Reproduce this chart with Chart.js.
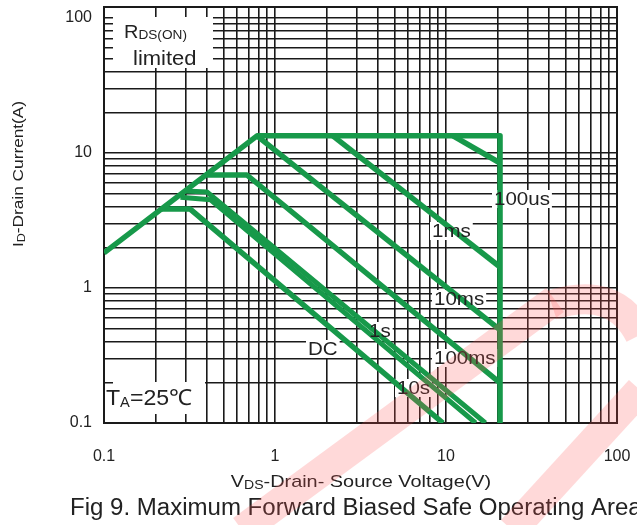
<!DOCTYPE html>
<html>
<head>
<meta charset="utf-8">
<script src="https://cdn.jsdelivr.net/npm/chart.js@4.4.1/dist/chart.umd.min.js"></script>
<style>
    html, body { margin: 0; padding: 0; background: #fff; }
</style>
</head>
<body>
<canvas id="chartSOA" width="637" height="525"></canvas>
<script>
// Datos: V (voltios) e I (amperios)
const decadas = [0.1, 1, 10, 100];
const etiquetasDecada = ['0.1', '1', '10', '100'];

// Límite RDS(ON) + límite de corriente + límite de tensión
const rdsV = [0.1, 0.785, 20.7, 20.7];
const rdsI = [1.82, 13.4, 13.4, 0.1];

const us100V = [11.0, 20.7];
const us100I = [13.4, 8.43];

const ms1V = [2.18, 20.7];
const ms1I = [13.4, 1.43];

const ms10V = [0.785, 20.7];
const ms10I = [13.4, 0.489];

const ms100V = [0.40, 0.685, 20.7];
const ms100I = [6.87, 6.87, 0.198];

const s1V = [0.298, 0.40, 17.0];
const s1I = [5.23, 5.14, 0.1];

const dcV = [0.28, 0.42, 14.9];
const dcI = [4.70, 4.50, 0.1];

const s10V = [0.217, 0.318, 9.6];
const s10I = [3.85, 3.85, 0.1];

const curvas = [
    ['RDS', rdsV, rdsI],
    ['100us', us100V, us100I],
    ['1ms', ms1V, ms1I],
    ['10ms', ms10V, ms10I],
    ['100ms', ms100V, ms100I],
    ['1s', s1V, s1I],
    ['DC', dcV, dcI],
    ['10s', s10V, s10I]
];

const VERDE = '#17994a';
const NEGRO = '#1a1a1a';
const FUENTE = "'Liberation Sans', Arial, sans-serif";

// ticks de la rejilla log (1..9 por década)
const ticksLog = [];
decadas.forEach(d => {
    for (let m = 1; m <= 9; m++) {
        if (d === 100 && m > 1) break;
        ticksLog.push(d * m);
    }
});

function etiqueta(v) {
    const i = decadas.findIndex(d => Math.abs(v - d) < d * 1e-6);
    return i >= 0 ? etiquetasDecada[i] : '';
}

// texto con subíndices: partes = [[texto, tamaño, dy], ...]
function textoSub(ctx, partes, x, y, sx) {
    ctx.save();
    ctx.translate(x, y);
    ctx.scale(sx || 1, 1);
    let px = 0;
    partes.forEach(p => {
        ctx.font = p[1] + 'px ' + FUENTE;
        ctx.fillText(p[0], px, p[2] || 0);
        px += ctx.measureText(p[0]).width;
    });
    ctx.restore();
    return px * (sx || 1);
}

function anchoSub(ctx, partes, sx) {
    let w = 0;
    partes.forEach(p => {
        ctx.font = p[1] + 'px ' + FUENTE;
        w += ctx.measureText(p[0]).width;
    });
    return w * (sx || 1);
}

// etiquetas dentro del gráfico (posición en px: izquierda, línea base)
const rotulos = [
    [[['100us', 19]], 494, 205],
    [[['1ms', 19]], 432, 237],
    [[['10ms', 19]], 434, 305],
    [[['100ms', 19]], 434, 364],
    [[['1s', 19]], 369, 337],
    [[['DC', 19]], 308, 355],
    [[['10s', 19]], 397, 394]
];

const pluginTextos = {
    id: 'textos',
    beforeDatasetsDraw(chart) {
        const ctx = chart.ctx;
        const a = chart.chartArea;
        ctx.save();
        // marco
        ctx.strokeStyle = NEGRO;
        ctx.lineWidth = 2;
        ctx.strokeRect(a.left, a.top, a.right - a.left, a.bottom - a.top);
        // fondos blancos
        ctx.fillStyle = '#fff';
        ctx.fillRect(113, 17, 100, 51);
        ctx.fillRect(113, 382, 92, 32);
        rotulos.forEach(r => {
            const w = anchoSub(ctx, r[0], 1.08);
            ctx.fillRect(r[1] - 2, r[2] - 15, w + 4, 18);
        });
        ctx.restore();
    },
    afterDatasetsDraw(chart) {
        const ctx = chart.ctx;
        ctx.save();
        ctx.fillStyle = '#222';
        ctx.textBaseline = 'alphabetic';
        rotulos.forEach(r => textoSub(ctx, r[0], r[1], r[2], 1.08));
        textoSub(ctx, [['R', 19], ['DS(ON)', 13, 1]], 124, 38, 1.05);
        textoSub(ctx, [['limited', 20]], 133, 65, 1.1);
        textoSub(ctx, [['T', 22], ['A', 14, 2], ['=25\u2103', 22]], 106, 405, 1.05);

        // títulos de ejes
        const partesX = [['V', 17], ['DS', 12, 2], ['-Drain- Source Voltage(V)', 17]];
        const wx = anchoSub(ctx, partesX, 1.17);
        textoSub(ctx, partesX, 361 - wx / 2, 487, 1.17);

        const partesY = [['I', 15], ['D', 11, 2], ['-Drain Current(A)', 15]];
        const wy = anchoSub(ctx, partesY, 1.15);
        ctx.save();
        ctx.translate(23, 174);
        ctx.rotate(-Math.PI / 2);
        textoSub(ctx, partesY, -wy / 2, 0, 1.15);
        ctx.restore();

        // pie de figura
        textoSub(ctx, [['Fig 9. Maximum Forward Biased Safe Operating Area', 23]], 70, 515, 1.045);

        // marca de agua rosa
        ctx.strokeStyle = 'rgba(255, 80, 80, 0.22)';
        ctx.lineWidth = 30;
        ctx.lineCap = 'butt';
        ctx.beginPath();
        ctx.moveTo(242, 530);
        ctx.lineTo(555, 300);
        ctx.stroke();
        ctx.beginPath();
        ctx.moveTo(512, 530);
        ctx.lineTo(640, 390);
        ctx.stroke();
        ctx.beginPath();
        ctx.moveTo(552, 305);
        ctx.quadraticCurveTo(615, 285, 640, 335);
        ctx.stroke();
        ctx.restore();
    }
};

function ejeLog(min, max, tam, ancho) {
    return {
        type: 'logarithmic',
        min: min,
        max: max,
        bounds: 'data',
        afterBuildTicks: s => { s.ticks = ticksLog.map(v => ({ value: v })); },
        afterFit: s => {
            if (ancho) s.width = tam; else s.height = tam;
            s.paddingTop = 0;
            s.paddingBottom = 0;
            s.paddingLeft = 0;
            s.paddingRight = 0;
        },
        grid: { color: NEGRO, lineWidth: 1.6, drawTicks: false },
        border: { color: NEGRO, width: 2 },
        ticks: {
            autoSkip: false,
            maxRotation: 0,
            padding: ancho ? 12 : 24,
            color: '#222',
            font: { family: FUENTE, size: 16 },
            callback: v => etiqueta(v)
        }
    };
}

const ctx = document.getElementById('chartSOA').getContext('2d');
new Chart(ctx, {
    type: 'line',
    data: {
        datasets: curvas.map(c => ({
            label: c[0],
            data: c[1].map((v, i) => ({ x: v, y: c[2][i] })),
            borderColor: VERDE,
            borderWidth: c[0] === '1s' || c[0] === 'DC' ? 5 : 5.5,
            pointRadius: 0,
            fill: false,
            tension: 0,
            borderJoinStyle: 'round'
        }))
    },
    options: {
        responsive: false,
        animation: false,
        layout: { padding: { left: 0, right: 20, top: 7, bottom: 0 } },
        plugins: {
            legend: { display: false },
            tooltip: { enabled: false }
        },
        scales: {
            x: ejeLog(0.1, 100, 102, false),
            y: ejeLog(0.1, 120.6, 104, true)
        }
    },
    plugins: [pluginTextos]
});
</script>
</body>
</html>
